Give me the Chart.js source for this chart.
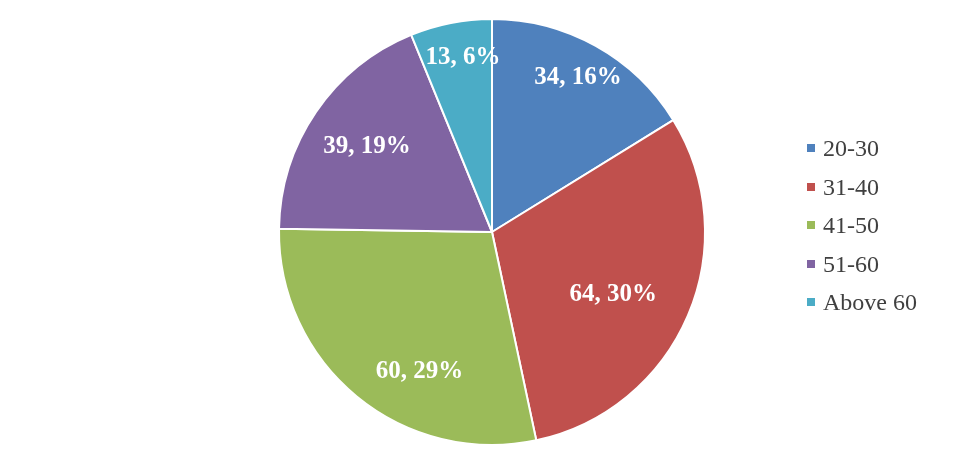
<!DOCTYPE html>
<html>
<head>
<meta charset="utf-8">
<script src="https://cdn.jsdelivr.net/npm/chart.js@4"></script>
<style>
  html, body { margin: 0; padding: 0; background: #ffffff; }
  #wrap { position: relative; width: 974px; height: 460px; }
  #legend { position: absolute; left: 807px; top: 129px; font-family: "Liberation Serif", "Times New Roman", serif; font-size: 24px; color: #404040; }
  #legend .item { height: 38.5px; line-height: 38.5px; white-space: nowrap; display: flex; align-items: center; }
  #legend .box { width: 8px; height: 8px; margin-right: 8px; display: inline-block; }
</style>
</head>
<body>
<div id="wrap">
  <canvas id="c" width="974" height="460"></canvas>
  <div id="legend"></div>
</div>
<script>
const categories = ["20-30", "31-40", "41-50", "51-60", "Above 60"];
const counts = [34, 64, 60, 39, 13];
const percentLabels = ["16%", "30%", "29%", "19%", "6%"];
const colors = ["#4F81BD", "#C0504D", "#9BBB59", "#8064A2", "#4BACC6"];
const labelRadius = [0.83, 0.64, 0.74, 0.71, 0.83];
const labelAngleShift = [0, 0.07, -0.21, 0, 0.03];

const labelPlugin = {
  id: 'sliceLabels',
  afterDatasetsDraw(chart) {
    const ctx = chart.ctx;
    const meta = chart.getDatasetMeta(0);
    ctx.save();
    ctx.font = 'bold 25px "Liberation Serif", "Times New Roman", serif';
    ctx.fillStyle = '#ffffff';
    ctx.textAlign = 'center';
    ctx.textBaseline = 'middle';
    meta.data.forEach((arc, i) => {
      const p = arc.getProps(['x', 'y', 'startAngle', 'endAngle', 'outerRadius'], true);
      const mid = (p.startAngle + p.endAngle) / 2 + labelAngleShift[i];
      const r = p.outerRadius * labelRadius[i];
      const x = p.x + Math.cos(mid) * r;
      const y = p.y + Math.sin(mid) * r;
      ctx.fillText(counts[i] + ', ' + percentLabels[i], x, y);
    });
    ctx.restore();
  }
};

new Chart(document.getElementById('c'), {
  type: 'pie',
  data: {
    labels: categories,
    datasets: [{
      data: counts,
      backgroundColor: colors,
      borderColor: '#ffffff',
      borderWidth: 2
    }]
  },
  options: {
    responsive: false,
    animation: false,
    layout: { padding: { left: 278, right: 268, top: 18, bottom: 14 } },
    plugins: {
      legend: { display: false },
      tooltip: { enabled: false }
    }
  },
  plugins: [labelPlugin]
});

const legend = document.getElementById('legend');
categories.forEach((c, i) => {
  const item = document.createElement('div');
  item.className = 'item';
  const box = document.createElement('span');
  box.className = 'box';
  box.style.background = colors[i];
  const t = document.createElement('span');
  t.textContent = c;
  item.appendChild(box);
  item.appendChild(t);
  legend.appendChild(item);
});
</script>
</body>
</html>
